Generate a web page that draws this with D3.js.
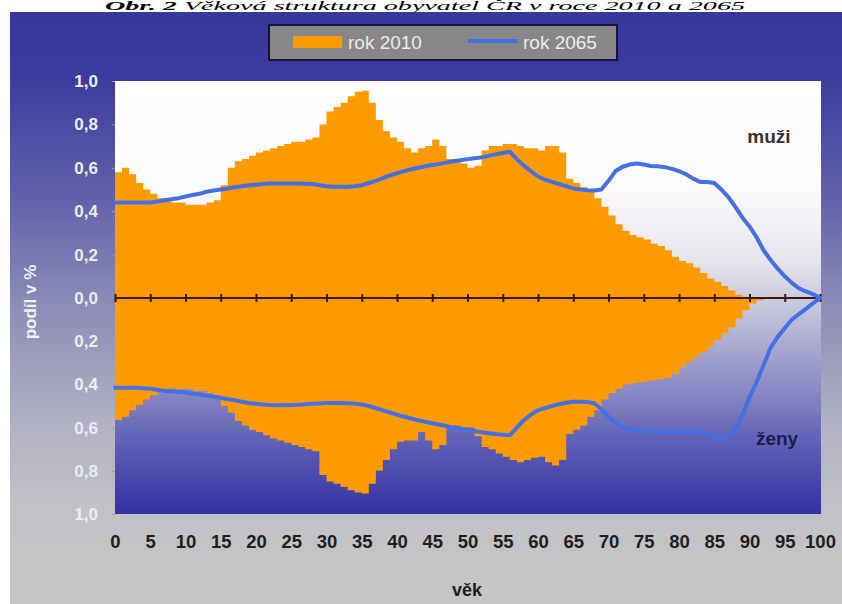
<!DOCTYPE html>
<html>
<head>
<meta charset="utf-8">
<script src="https://cdn.jsdelivr.net/npm/d3@7"></script>
<style>
  html, body { margin: 0; padding: 0; background: #fff; }
  svg { display: block; }
</style>
</head>
<body>
<svg id="chart" width="842" height="604"></svg>
<script>
// ---------------- DATA ----------------
const ages = d3.range(0, 101);
const ageTicks = d3.range(0, 101, 5);
const yTickValues = [0, 0.2, 0.4, 0.6, 0.8, 1.0];
const seriesNames = ["rok 2010", "rok 2065"];
const sexLabels = ["muži", "ženy"];
const titleText = ["Obr. 2", " Věková struktura obyvatel ČR v roce 2010 a 2065"];
const xTitle = "věk";
const yTitle = "podíl v %";

// muži 2010 (podíl v %, věk 0..100)
const men2010 = [
  0.58, 0.60, 0.57, 0.53, 0.50, 0.48, 0.46, 0.45, 0.44, 0.44,
  0.43, 0.43, 0.43, 0.44, 0.45, 0.52, 0.60, 0.63, 0.64, 0.655,
  0.67, 0.68, 0.69, 0.70, 0.71, 0.72, 0.72, 0.73, 0.74, 0.80,
  0.86, 0.88, 0.90, 0.93, 0.95, 0.955, 0.90, 0.82, 0.77, 0.74,
  0.72, 0.69, 0.67, 0.69, 0.70, 0.73, 0.70, 0.64, 0.63, 0.62,
  0.60, 0.61, 0.68, 0.70, 0.70, 0.71, 0.71, 0.70, 0.69, 0.69,
  0.68, 0.70, 0.70, 0.67, 0.55, 0.53, 0.51, 0.50, 0.46, 0.42,
  0.38, 0.34, 0.31, 0.29, 0.28, 0.27, 0.25, 0.24, 0.22, 0.19,
  0.17, 0.16, 0.14, 0.115, 0.09, 0.075, 0.055, 0.035, 0.015, 0.006,
  0, 0, 0, 0, 0, 0, 0, 0, 0, 0, 0
];
// ženy 2010
const women2010 = [
  0.565, 0.55, 0.52, 0.495, 0.47, 0.45, 0.43, 0.42, 0.42, 0.42,
  0.42, 0.43, 0.43, 0.44, 0.45, 0.50, 0.53, 0.57, 0.59, 0.61,
  0.62, 0.635, 0.65, 0.66, 0.67, 0.68, 0.69, 0.70, 0.71, 0.82,
  0.85, 0.86, 0.875, 0.89, 0.90, 0.905, 0.86, 0.80, 0.75, 0.70,
  0.665, 0.66, 0.66, 0.62, 0.66, 0.70, 0.68, 0.60, 0.59, 0.60,
  0.60, 0.64, 0.69, 0.70, 0.72, 0.735, 0.75, 0.76, 0.75, 0.74,
  0.735, 0.76, 0.775, 0.75, 0.63, 0.61, 0.59, 0.55, 0.52, 0.47,
  0.44, 0.42, 0.40, 0.395, 0.39, 0.385, 0.38, 0.375, 0.37, 0.35,
  0.32, 0.295, 0.27, 0.25, 0.225, 0.195, 0.165, 0.135, 0.095, 0.056,
  0.025, 0.01, 0, 0, 0, 0, 0, 0, 0, 0, 0
];
// muži 2065
const men2065 = [
  0.44, 0.44, 0.44, 0.44, 0.44, 0.44, 0.445, 0.45, 0.455, 0.46,
  0.468, 0.475, 0.48, 0.49, 0.495, 0.50, 0.505, 0.51, 0.515, 0.52,
  0.522, 0.525, 0.528, 0.528, 0.528, 0.528, 0.528, 0.527, 0.525, 0.52,
  0.515, 0.513, 0.513, 0.513, 0.515, 0.52, 0.53, 0.54, 0.553, 0.565,
  0.575, 0.585, 0.593, 0.60, 0.607, 0.613, 0.618, 0.624, 0.63, 0.635,
  0.64, 0.644, 0.648, 0.655, 0.662, 0.668, 0.674, 0.64, 0.61, 0.585,
  0.56, 0.545, 0.535, 0.525, 0.515, 0.505, 0.50, 0.497, 0.495, 0.50,
  0.54, 0.585, 0.605, 0.615, 0.62, 0.615, 0.608, 0.607, 0.603, 0.595,
  0.585, 0.57, 0.55, 0.535, 0.535, 0.53, 0.50, 0.465, 0.42, 0.37,
  0.33, 0.28, 0.22, 0.175, 0.135, 0.10, 0.07, 0.045, 0.03, 0.018,
  0.0
];
// ženy 2065
const women2065 = [
  0.415, 0.415, 0.415, 0.415, 0.418, 0.42, 0.425, 0.43, 0.432, 0.435,
  0.438, 0.442, 0.447, 0.452, 0.457, 0.463, 0.468, 0.474, 0.48, 0.486,
  0.49, 0.493, 0.495, 0.496, 0.496, 0.495, 0.494, 0.492, 0.49, 0.488,
  0.486, 0.486, 0.486, 0.487, 0.489, 0.493, 0.50, 0.51, 0.52, 0.53,
  0.54, 0.55, 0.558, 0.566, 0.573, 0.58, 0.587, 0.593, 0.60, 0.605,
  0.61, 0.616, 0.622, 0.626, 0.63, 0.633, 0.636, 0.60, 0.565, 0.54,
  0.52, 0.51, 0.50, 0.492, 0.485, 0.48, 0.48, 0.482, 0.487, 0.515,
  0.55, 0.58, 0.598, 0.608, 0.613, 0.616, 0.618, 0.619, 0.619, 0.62,
  0.62, 0.62, 0.621, 0.622, 0.625, 0.64, 0.655, 0.64, 0.605, 0.54,
  0.46, 0.39, 0.31, 0.23, 0.18, 0.14, 0.10, 0.075, 0.05, 0.025,
  0.0
];

// ---------------- DRAW ----------------
const svg = d3.select("#chart");
const W = 842, H = 604;
const plot = { left: 115, right: 821, top: 81, zero: 298, bottom: 514 };

const defs = svg.append("defs");
const og = defs.append("linearGradient").attr("id", "outerGrad")
  .attr("x1", 0).attr("y1", 0).attr("x2", 0).attr("y2", 1);
[[0, "#38379c"], [0.1, "#3b3a9e"], [0.3, "#5e5eaa"], [0.5, "#8d8db8"], [0.7, "#b2b2c4"], [0.85, "#c2c2c6"], [1, "#c6c6c6"]]
  .forEach(([o, c]) => og.append("stop").attr("offset", o).attr("stop-color", c));

const pg = defs.append("linearGradient").attr("id", "plotGrad")
  .attr("x1", 0).attr("y1", 0).attr("x2", 0).attr("y2", 1);
[[0, "#ffffff"], [0.25, "#fbfbfc"], [0.42, "#e4e4ec"], [0.52, "#c6c6dc"], [0.7, "#8e8ec6"], [0.85, "#5a5ab4"], [1, "#3232a4"]]
  .forEach(([o, c]) => pg.append("stop").attr("offset", o).attr("stop-color", c));

// title (a thin strip above the panel, as in reference)
const tt = svg.append("text")
  .attr("x", 425).attr("y", 10)
  .attr("text-anchor", "middle")
  .attr("font-family", "'Liberation Serif', 'Times New Roman', serif")
  .attr("font-style", "italic")
  .attr("font-size", 12)
  .attr("textLength", 640)
  .attr("lengthAdjust", "spacingAndGlyphs")
  .attr("fill", "#000");
tt.append("tspan").attr("font-weight", "bold").text(titleText[0]);
tt.append("tspan").text(titleText[1]);

// outer panel
svg.append("rect").attr("x", 10).attr("y", 12).attr("width", W - 10).attr("height", H - 12)
  .attr("fill", "url(#outerGrad)");

// plot area
svg.append("rect").attr("x", plot.left).attr("y", plot.top)
  .attr("width", plot.right - plot.left).attr("height", plot.bottom - plot.top)
  .attr("fill", "url(#plotGrad)");

// scales
const x = d3.scaleLinear().domain([0, 100]).range([plot.left, 820]);
const yTop = d3.scaleLinear().domain([0, 1]).range([plot.zero, plot.top]);
const yBot = d3.scaleLinear().domain([0, 1]).range([plot.zero, plot.bottom]);

const orange = "#ff9a00";
const blue = "#4470e4";

// 2010 bars (step areas)
const areaTop = d3.area().curve(d3.curveStepAfter)
  .x(d => x(d[0])).y0(yTop(0)).y1(d => yTop(d[1]));
const areaBot = d3.area().curve(d3.curveStepAfter)
  .x(d => x(d[0])).y0(yBot(0)).y1(d => yBot(d[1]));

svg.append("path").datum(ages.map((a, i) => [a, men2010[i]]))
  .attr("d", areaTop).attr("fill", orange);
svg.append("path").datum(ages.map((a, i) => [a, women2010[i]]))
  .attr("d", areaBot).attr("fill", orange);

// y axes (labels)
const fmt = d => d3.format(".1f")(d).replace(".", ",");
const styleYAxis = g => {
  g.select(".domain").remove();
  g.selectAll(".tick line").attr("stroke", "#9a9ab0").attr("stroke-width", 1);
  g.selectAll(".tick text")
    .attr("font-family", "'Liberation Sans', Arial, sans-serif")
    .attr("font-weight", "bold").attr("font-size", 17)
    .attr("fill", "#ececf2");
};
svg.append("g").attr("transform", `translate(${plot.left},0)`)
  .call(d3.axisLeft(yTop).tickValues(yTickValues).tickFormat(fmt).tickSize(3).tickPadding(14))
  .call(styleYAxis);
svg.append("g").attr("transform", `translate(${plot.left},0)`)
  .call(d3.axisLeft(yBot).tickValues(yTickValues.slice(1)).tickFormat(fmt).tickSize(3).tickPadding(14))
  .call(styleYAxis);

// zero axis line with ticks
const zAxis = svg.append("g").attr("transform", `translate(0,${plot.zero - 4})`)
  .call(d3.axisBottom(x).tickValues(ageTicks).tickSize(8).tickSizeOuter(0).tickFormat(""));
zAxis.select(".domain").remove();
zAxis.selectAll(".tick line").attr("stroke", "#3a1800").attr("stroke-width", 2);
svg.append("line").attr("x1", x(0)).attr("x2", x(100))
  .attr("y1", plot.zero).attr("y2", plot.zero)
  .attr("stroke", "#3a1800").attr("stroke-width", 2);

// 2065 lines
const lineTop = d3.line().x((d, i) => x(ages[i])).y(d => yTop(d));
const lineBot = d3.line().x((d, i) => x(ages[i])).y(d => yBot(d));
svg.append("path").datum(men2065).attr("d", lineTop)
  .attr("fill", "none").attr("stroke", blue).attr("stroke-width", 4)
  .attr("stroke-linejoin", "round").attr("stroke-linecap", "round");
svg.append("path").datum(women2065).attr("d", lineBot)
  .attr("fill", "none").attr("stroke", blue).attr("stroke-width", 4)
  .attr("stroke-linejoin", "round").attr("stroke-linecap", "round");

// x axis labels
const xa = svg.append("g").attr("transform", `translate(0,${plot.bottom})`)
  .call(d3.axisBottom(x).tickValues(ageTicks).tickSize(0).tickPadding(21));
xa.select(".domain").remove();
xa.selectAll(".tick text")
  .attr("font-family", "'Liberation Sans', Arial, sans-serif")
  .attr("font-weight", "bold").attr("font-size", 18.5).attr("fill", "#1e1e1e");

// axis titles
svg.append("text").attr("x", 467).attr("y", 596).attr("text-anchor", "middle")
  .attr("font-family", "'Liberation Sans', Arial, sans-serif")
  .attr("font-weight", "bold").attr("font-size", 18).attr("fill", "#1e1e1e")
  .text(xTitle);
svg.append("text").attr("transform", "translate(36,302) rotate(-90)")
  .attr("text-anchor", "middle")
  .attr("font-family", "'Liberation Sans', Arial, sans-serif")
  .attr("font-weight", "bold").attr("font-size", 17).attr("fill", "#f2f2f6")
  .text(yTitle);

// sex labels
svg.append("text").attr("x", 769).attr("y", 143).attr("text-anchor", "middle")
  .attr("font-family", "'Liberation Sans', Arial, sans-serif")
  .attr("font-weight", "bold").attr("font-size", 19).attr("fill", "#333333")
  .text(sexLabels[0]);
svg.append("text").attr("x", 777).attr("y", 445).attr("text-anchor", "middle")
  .attr("font-family", "'Liberation Sans', Arial, sans-serif")
  .attr("font-weight", "bold").attr("font-size", 19).attr("fill", "#1c1c4c")
  .text(sexLabels[1]);

// legend
const lg = svg.append("g");
lg.append("rect").attr("x", 269).attr("y", 25).attr("width", 348).attr("height", 35)
  .attr("fill", "#878787").attr("stroke", "#15153a").attr("stroke-width", 2);
lg.append("rect").attr("x", 293).attr("y", 36).attr("width", 49).attr("height", 12)
  .attr("fill", orange);
lg.append("text").attr("x", 348).attr("y", 49)
  .attr("font-family", "'Liberation Sans', Arial, sans-serif")
  .attr("font-size", 19).attr("fill", "#ececec").text(seriesNames[0]);
lg.append("line").attr("x1", 468).attr("x2", 518).attr("y1", 41).attr("y2", 41)
  .attr("stroke", blue).attr("stroke-width", 4);
lg.append("text").attr("x", 523).attr("y", 49)
  .attr("font-family", "'Liberation Sans', Arial, sans-serif")
  .attr("font-size", 19).attr("fill", "#ececec").text(seriesNames[1]);
</script>
</body>
</html>
